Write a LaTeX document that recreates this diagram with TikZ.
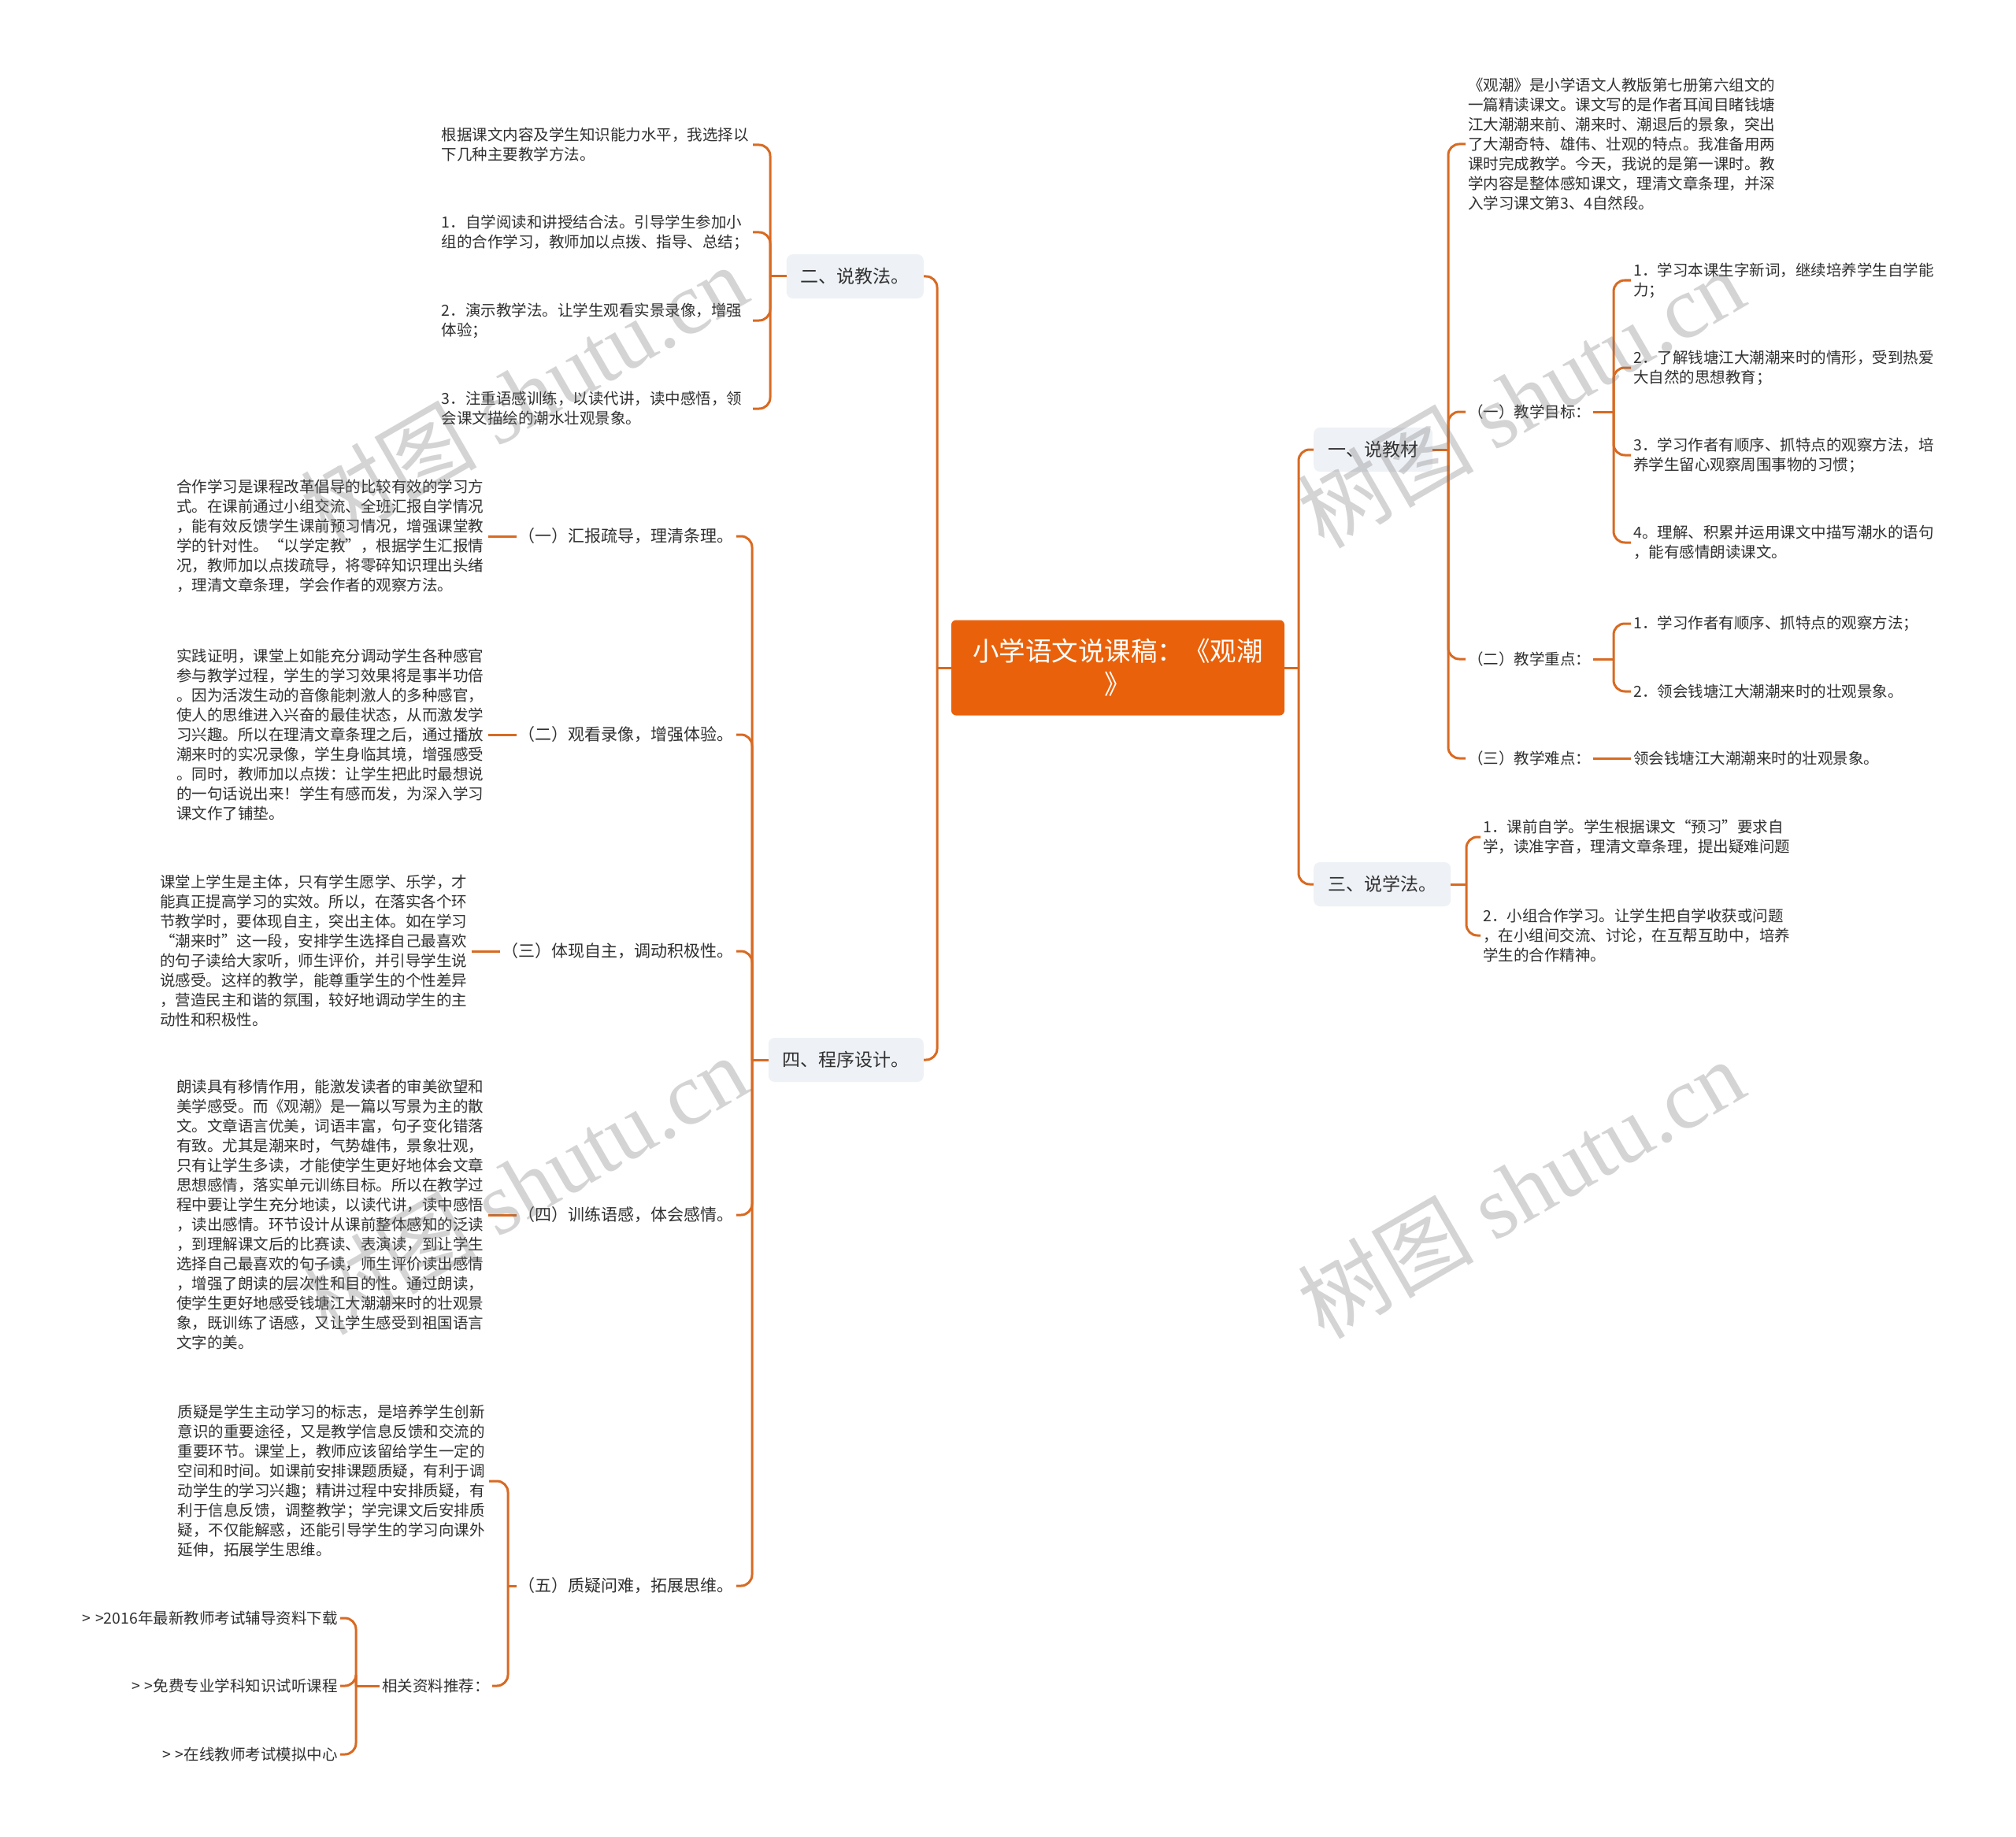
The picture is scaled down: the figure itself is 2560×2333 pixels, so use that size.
\documentclass[tikz,border=0pt]{standalone}
\usepackage{fontspec}
\setmainfont{Noto Sans CJK SC}
\newfontfamily\wmlatin{Liberation Serif}
\usepackage{tikz}
\usetikzlibrary{positioning}
\definecolor{rootorange}{HTML}{E9620B}
\definecolor{linebrown}{HTML}{D86A22}
\definecolor{boxgray}{HTML}{EEF1F5}
\definecolor{textgray}{HTML}{303030}
\newcommand{\leaffont}{\fontsize{19.5pt}{25pt}\selectfont}
\newcommand{\steplblfont}{\fontsize{21pt}{26pt}\selectfont}
\newcommand{\topicfont}{\fontsize{23pt}{28pt}\selectfont}
\newcommand{\centrefont}{\fontsize{33.5pt}{42pt}\selectfont}
\newcommand{\wmfont}{\fontsize{112pt}{120pt}\selectfont}

\begin{document}
\begin{tikzpicture}[x=1pt, y=-1pt,
  every node/.style={text=textgray, inner sep=3pt},
  centre/.style={rectangle, fill=rootorange, text=white, rounded corners=6pt, minimum width=423pt, minimum height=121pt, align=center, font=\centrefont},
  topic/.style={rectangle, fill=boxgray, rounded corners=8pt, minimum height=56pt, inner xsep=18pt, font=\topicfont},
  leaf/.style={font=\leaffont, text width=392pt, align=left},
  lbl/.style={font=\leaffont},
  steplbl/.style={font=\steplblfont},
  conn/.style={draw=linebrown, line width=3pt, rounded corners=14pt},
  wm/.style={font=\wmfont, text=black!55, text opacity=0.3, rotate=30}
]
\useasboundingbox[fill=white] (0,0) rectangle (2560,2333);

% Centre topic
\node[centre] (root) at (1419.5, 848) {小学语文说课稿：《观潮\\》};
\coordinate (rootL) at (1190, 848);
\coordinate (rootR) at (1649, 848);

% Main topics
\node[topic, anchor=east] (jiaofa) at (1173, 351) {二、说教法。};
\node[topic, anchor=east] (chengxu) at (1173, 1346) {四、程序设计。};
\node[topic, anchor=west] (jiaocai) at (1668, 571) {一、说教材};
\node[topic, anchor=west] (xuefa) at (1668, 1123) {三、说学法。};

\draw[conn] (root.west) -- (rootL);
\draw[conn] (rootL) |- (jiaofa.east);
\draw[conn] (rootL) |- (chengxu.east);
\draw[conn] (root.east) -- (rootR);
\draw[conn] (rootR) |- (jiaocai.west);
\draw[conn] (rootR) |- (xuefa.west);

% 二、说教法
\coordinate (jfS) at (978, 351);
\node[leaf, anchor=east] (jf0) at (956, 184) {根据课文内容及学生知识能力水平，我选择以\\下几种主要教学方法。};
\node[leaf, anchor=east] (jf1) at (956, 295) {1．自学阅读和讲授结合法。引导学生参加小\\组的合作学习，教师加以点拨、指导、总结；};
\node[leaf, anchor=east] (jf2) at (956, 407) {2．演示教学法。让学生观看实景录像，增强\\体验；};
\node[leaf, anchor=east] (jf3) at (956, 519) {3．注重语感训练，以读代讲，读中感悟，领\\会课文描绘的潮水壮观景象。};
\draw[conn] (jiaofa.west) -- (jfS);
\draw[conn] (jfS) |- (jf0.east);
\draw[conn] (jfS) |- (jf1.east);
\draw[conn] (jfS) |- (jf2.east);
\draw[conn] (jfS) |- (jf3.east);

% 四、程序设计
\coordinate (cxS) at (955, 1346);
\node[steplbl, anchor=east] (cx1) at (935, 681) {（一）汇报疏导，理清条理。};
\node[steplbl, anchor=east] (cx2) at (935, 933) {（二）观看录像，增强体验。};
\node[steplbl, anchor=east] (cx3) at (935, 1208) {（三）体现自主，调动积极性。};
\node[steplbl, anchor=east] (cx4) at (935, 1543) {（四）训练语感，体会感情。};
\node[steplbl, anchor=east] (cx5) at (935, 2014) {（五）质疑问难，拓展思维。};
\draw[conn] (chengxu.west) -- (cxS);
\draw[conn] (cxS) |- (cx1.east);
\draw[conn] (cxS) |- (cx2.east);
\draw[conn] (cxS) |- (cx3.east);
\draw[conn] (cxS) |- (cx4.east);
\draw[conn] (cxS) |- (cx5.east);

\node[leaf, left=36pt of cx1] (cx1t) {合作学习是课程改革倡导的比较有效的学习方\\式。在课前通过小组交流、全班汇报自学情况\\，能有效反馈学生课前预习情况，增强课堂教\\学的针对性。“以学定教”，根据学生汇报情\\况，教师加以点拨疏导，将零碎知识理出头绪\\，理清文章条理，学会作者的观察方法。};
\node[leaf, left=36pt of cx2] (cx2t) {实践证明，课堂上如能充分调动学生各种感官\\参与教学过程，学生的学习效果将是事半功倍\\。因为活泼生动的音像能刺激人的多种感官，\\使人的思维进入兴奋的最佳状态，从而激发学\\习兴趣。所以在理清文章条理之后，通过播放\\潮来时的实况录像，学生身临其境，增强感受\\。同时，教师加以点拨：让学生把此时最想说\\的一句话说出来！学生有感而发，为深入学习\\课文作了铺垫。};
\node[leaf, left=36pt of cx3] (cx3t) {课堂上学生是主体，只有学生愿学、乐学，才\\能真正提高学习的实效。所以，在落实各个环\\节教学时，要体现自主，突出主体。如在学习\\“潮来时”这一段，安排学生选择自己最喜欢\\的句子读给大家听，师生评价，并引导学生说\\说感受。这样的教学，能尊重学生的个性差异\\，营造民主和谐的氛围，较好地调动学生的主\\动性和积极性。};
\node[leaf, left=36pt of cx4] (cx4t) {朗读具有移情作用，能激发读者的审美欲望和\\美学感受。而《观潮》是一篇以写景为主的散\\文。文章语言优美，词语丰富，句子变化错落\\有致。尤其是潮来时，气势雄伟，景象壮观，\\只有让学生多读，才能使学生更好地体会文章\\思想感情，落实单元训练目标。所以在教学过\\程中要让学生充分地读，以读代讲，读中感悟\\，读出感情。环节设计从课前整体感知的泛读\\，到理解课文后的比赛读、表演读，到让学生\\选择自己最喜欢的句子读，师生评价读出感情\\，增强了朗读的层次性和目的性。通过朗读，\\使学生更好地感受钱塘江大潮潮来时的壮观景\\象，既训练了语感，又让学生感受到祖国语言\\文字的美。};
\draw[conn] (cx1t.east) -- (cx1.west);
\draw[conn] (cx2t.east) -- (cx2.west);
\draw[conn] (cx3t.east) -- (cx3.west);
\draw[conn] (cx4t.east) -- (cx4.west);

% (五) and its resources
\coordinate (cx5S) at (645, 2014);
\node[leaf, anchor=east] (cx5t) at (621, 1881) {质疑是学生主动学习的标志，是培养学生创新\\意识的重要途径，又是教学信息反馈和交流的\\重要环节。课堂上，教师应该留给学生一定的\\空间和时间。如课前安排课题质疑，有利于调\\动学生的学习兴趣；精讲过程中安排质疑，有\\利于信息反馈，调整教学；学完课文后安排质\\疑，不仅能解惑，还能引导学生的学习向课外\\延伸，拓展学生思维。};
\node[lbl, anchor=east] (tuijian) at (625, 2141) {相关资料推荐：};
\draw[conn] (cx5.west) -- (cx5S);
\draw[conn] (cx5S) |- (cx5t.east);
\draw[conn] (cx5S) |- (tuijian.east);

\coordinate (tjS) at (452, 2141);
\node[lbl, anchor=east] (tj1) at (432, 2055) {>\kern6pt>2016年最新教师考试辅导资料下载};
\node[lbl, anchor=east] (tj2) at (432, 2141) {>\kern6pt>免费专业学科知识试听课程};
\node[lbl, anchor=east] (tj3) at (432, 2228) {>\kern6pt>在线教师考试模拟中心};
\draw[conn] (tuijian.west) -- (tjS);
\draw[conn] (tjS) |- (tj1.east);
\draw[conn] (tjS) |- (tj2.east);
\draw[conn] (tjS) |- (tj3.east);

% 一、说教材
\coordinate (jcS) at (1839, 571);
\node[leaf, anchor=west] (jc0) at (1861, 183) {《观潮》是小学语文人教版第七册第六组文的\\一篇精读课文。课文写的是作者耳闻目睹钱塘\\江大潮潮来前、潮来时、潮退后的景象，突出\\了大潮奇特、雄伟、壮观的特点。我准备用两\\课时完成教学。今天，我说的是第一课时。教\\学内容是整体感知课文，理清文章条理，并深\\入学习课文第3、4自然段。};
\node[lbl, anchor=west] (mubiao) at (1861, 523) {（一）教学目标：};
\node[lbl, anchor=west] (zhongdian) at (1861, 837) {（二）教学重点：};
\node[lbl, anchor=west] (nandian) at (1861, 963) {（三）教学难点：};
\draw[conn] (jiaocai.east) -- (jcS);
\draw[conn] (jcS) |- (jc0.west);
\draw[conn] (jcS) |- (mubiao.west);
\draw[conn] (jcS) |- (zhongdian.west);
\draw[conn] (jcS) |- (nandian.west);

\coordinate (mbS) at (2049, 523);
\node[leaf, anchor=west] (mb1) at (2071, 356) {1．学习本课生字新词，继续培养学生自学能\\力；};
\node[leaf, anchor=west] (mb2) at (2071, 467) {2．了解钱塘江大潮潮来时的情形，受到热爱\\大自然的思想教育；};
\node[leaf, anchor=west] (mb3) at (2071, 578) {3．学习作者有顺序、抓特点的观察方法，培\\养学生留心观察周围事物的习惯；};
\node[leaf, anchor=west] (mb4) at (2071, 689) {4。理解、积累并运用课文中描写潮水的语句\\，能有感情朗读课文。};
\draw[conn] (mubiao.east) -- (mbS);
\draw[conn] (mbS) |- (mb1.west);
\draw[conn] (mbS) |- (mb2.west);
\draw[conn] (mbS) |- (mb3.west);
\draw[conn] (mbS) |- (mb4.west);

\coordinate (zdS) at (2049, 837);
\node[lbl, anchor=west] (zd1) at (2071, 792) {1．学习作者有顺序、抓特点的观察方法；};
\node[lbl, anchor=west] (zd2) at (2071, 878) {2．领会钱塘江大潮潮来时的壮观景象。};
\draw[conn] (zhongdian.east) -- (zdS);
\draw[conn] (zdS) |- (zd1.west);
\draw[conn] (zdS) |- (zd2.west);

\node[lbl, anchor=west] (nd1) at (2071, 963) {领会钱塘江大潮潮来时的壮观景象。};
\draw[conn] (nandian.east) -- (nd1.west);

% 三、说学法
\coordinate (xfS) at (1862, 1123);
\node[leaf, anchor=west] (xf1) at (1880, 1063) {1．课前自学。学生根据课文“预习”要求自\\学，读准字音，理清文章条理，提出疑难问题};
\node[leaf, anchor=west] (xf2) at (1880, 1188) {2．小组合作学习。让学生把自学收获或问题\\，在小组间交流、讨论，在互帮互助中，培养\\学生的合作精神。};
\draw[conn] (xuefa.east) -- (xfS);
\draw[conn] (xfS) |- (xf1.west);
\draw[conn] (xfS) |- (xf2.west);

% Watermarks
\node[wm] (wm1) at (665, 500) {树图 {\wmlatin shutu.cn}};
\node[wm] (wm2) at (1931, 505) {树图 {\wmlatin shutu.cn}};
\node[wm] (wm3) at (665, 1504) {树图 {\wmlatin shutu.cn}};
\node[wm] (wm4) at (1931, 1509) {树图 {\wmlatin shutu.cn}};

\end{tikzpicture}
\end{document}
